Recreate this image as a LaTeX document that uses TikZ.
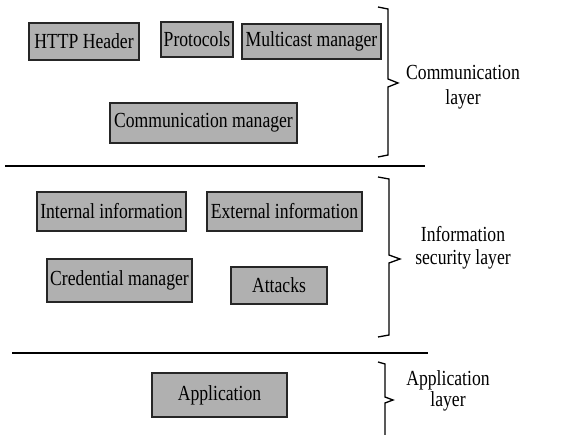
\documentclass[tikz,border=0pt]{standalone}
\usepackage{fontspec}
\setmainfont[FakeStretch=0.82]{Liberation Serif}
\usetikzlibrary{calc}

\definecolor{boxgray}{RGB}{176,176,176}
\tikzset{
    blk/.style={draw=black!85,line width=1.6pt,fill=boxgray,inner sep=0pt,
        font=\fontsize{21.5}{24}\selectfont},
    lyr/.style={align=center,inner sep=0pt,font=\fontsize{21.5}{25}\selectfont},
    sep/.style={line width=1.3pt},
    brc/.style={line width=1.3pt}
}

\begin{document}
\begin{tikzpicture}[x=1pt,y=-1pt]
    \useasboundingbox (0,0) rectangle (568,435);
        % communication layer
        \node[blk,minimum width=110,minimum height=37] (http) at (84,41.5) {HTTP Header};
        \node[blk,minimum width=72,minimum height=35] (proto) at (197,39.5) {Protocols};
        \node[blk,minimum width=139,minimum height=35] (mcast) at (311.5,41.5) {Multicast manager};
        \node[blk,minimum width=187,minimum height=40] (commgr) at (203.5,123) {Communication manager};
        \draw[brc] (378,7) -- (388,9) -- (388,79) -- (398,83) -- (388,87) -- (388,155) -- (378,157);
        \node[lyr] (commlayer) at (463,87) {Communication\\layer};
        \draw[sep] (5,166) -- (425,166);
        % information security layer
        \node[blk,minimum width=149,minimum height=39] (intinfo) at (111.5,211.5) {Internal information};
        \node[blk,minimum width=155,minimum height=39] (extinfo) at (284.5,211.5) {External information};
        \node[blk,minimum width=145,minimum height=43] (cred) at (119.5,280.5) {Credential manager};
        \node[blk,minimum width=96,minimum height=37] (attacks) at (279,285.5) {Attacks};
        \draw[brc] (378,177) -- (389,179) -- (389,255) -- (400,259) -- (389,263) -- (389,335) -- (378,337);
        \node[lyr,font=\fontsize{21.5}{23}\selectfont] (infolayer) at (463,248) {Information\\security layer};
        \draw[sep] (12,353) -- (428,353);
        % application layer
        \node[blk,minimum width=135,minimum height=44] (app) at (219.5,395) {Application};
        \draw[brc] (378,362) -- (385,364) -- (385,397) -- (393,400) -- (385,403) -- (385,435);
        \node[lyr,font=\fontsize{21.5}{19}\selectfont] (applayer) at (448,391) {Application\\layer};
    \end{tikzpicture}
\end{document}
